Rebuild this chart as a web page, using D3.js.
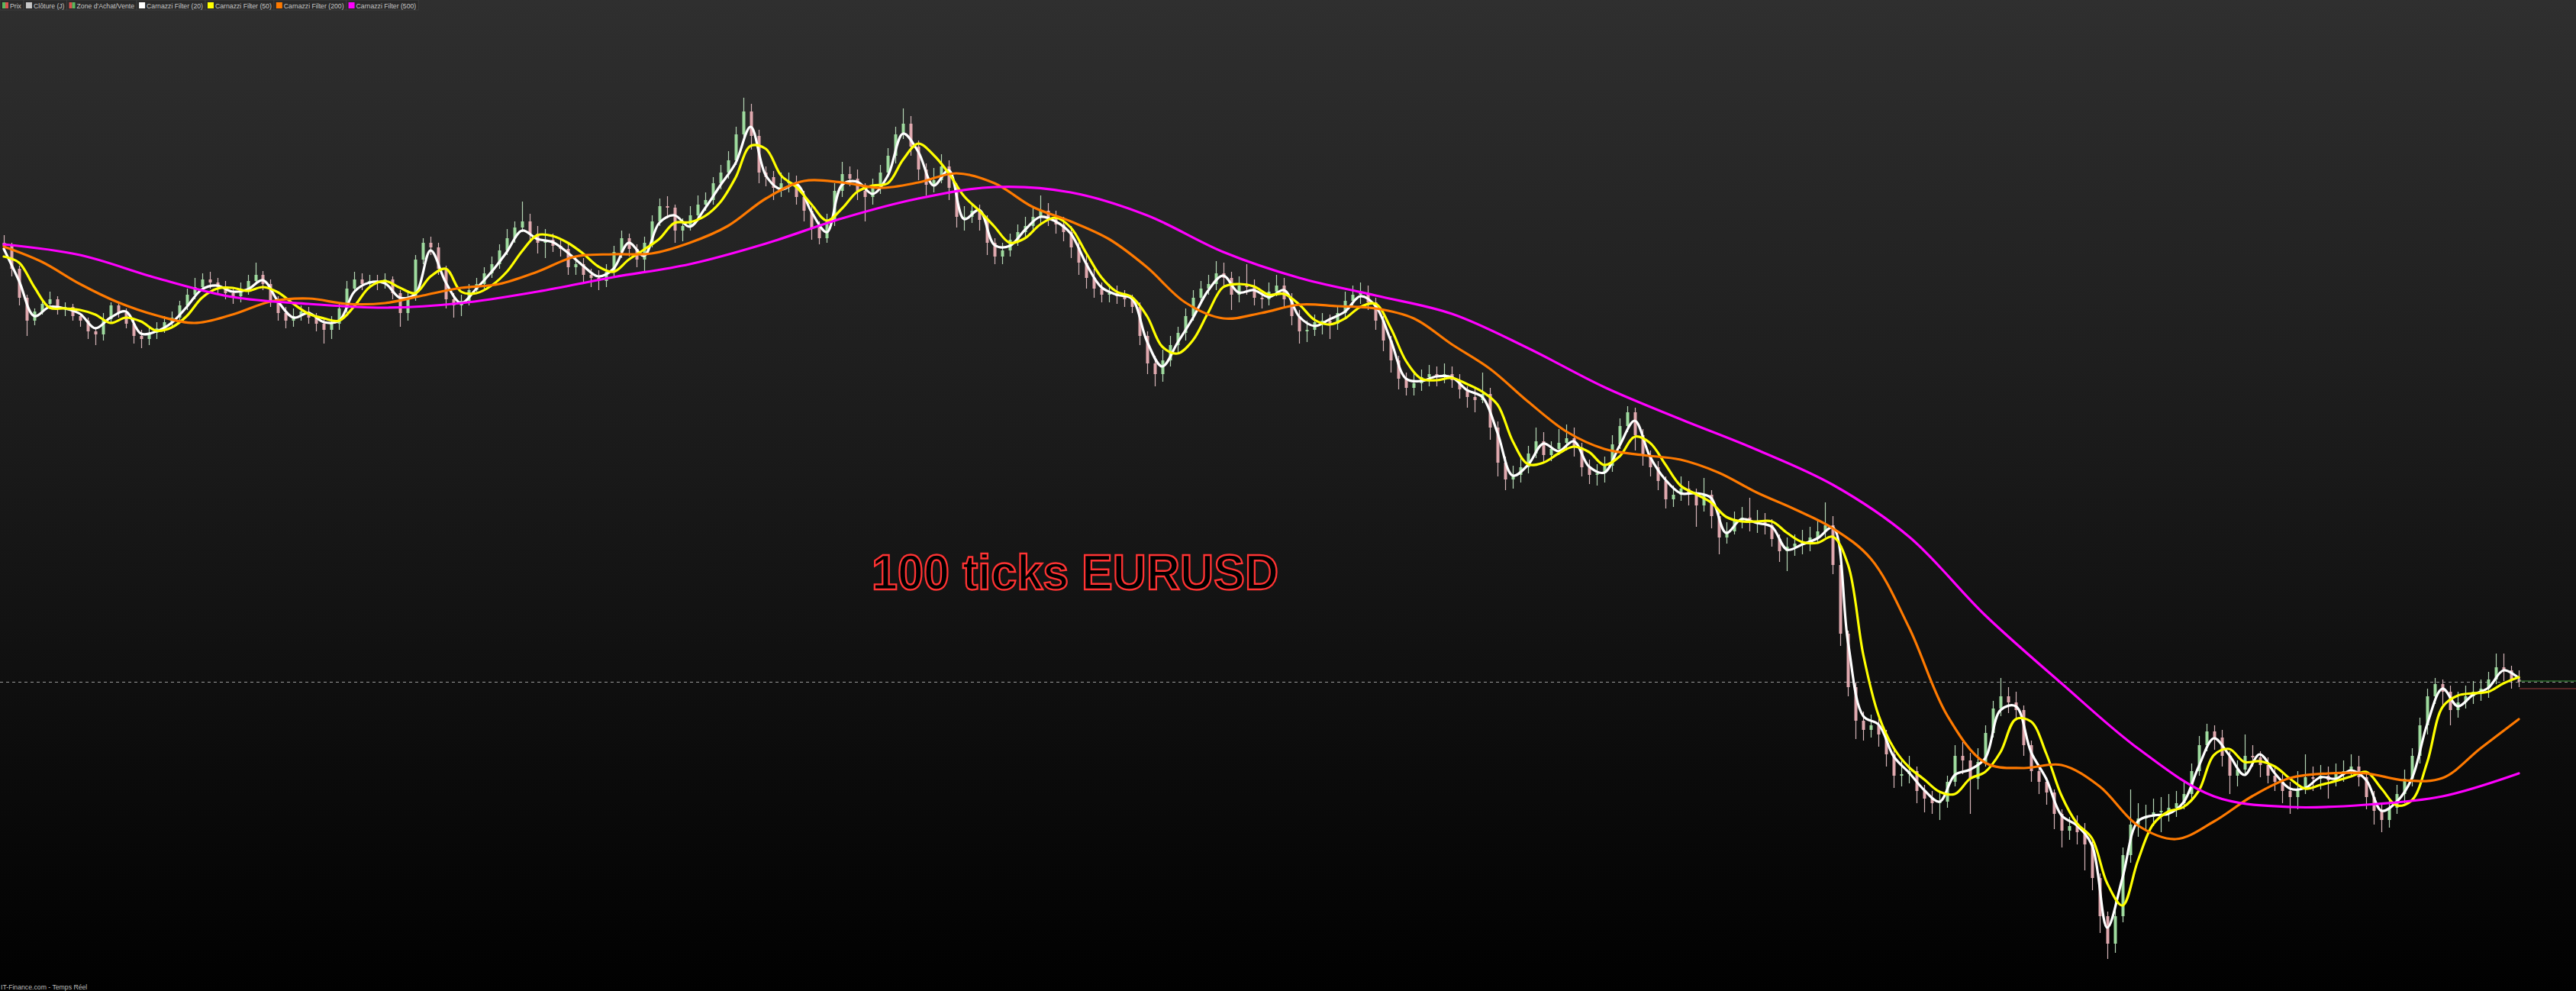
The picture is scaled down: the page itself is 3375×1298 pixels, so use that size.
<!DOCTYPE html>
<html><head><meta charset="utf-8">
<script src="https://cdn.jsdelivr.net/npm/d3@7"></script>
<style>html,body{margin:0;padding:0;background:#000;overflow:hidden}svg{display:block}</style>
</head><body><svg id="c" width="3375" height="1298"></svg>
<script>
// ---- DATA (EURUSD, 100-tick bars) ----
const chartTitle = "100 ticks EURUSD";
const footerText = "IT-Finance.com - Temps Réel";
const legendLabels = ["Prix","Clôture (J)","Zone d'Achat/Vente","Carnazzi Filter (20)","Carnazzi Filter (50)","Carnazzi Filter (200)","Carnazzi Filter (500)"];
const firstOpen = 1.09682;
const closes = [1.09678,1.09648,1.09610,1.09580,1.09592,1.09602,1.09608,1.09595,1.09598,1.09586,
1.09580,1.09566,1.09562,1.09582,1.09600,1.09590,1.09576,1.09560,1.09556,1.09564,
1.09570,1.09578,1.09584,1.09600,1.09614,1.09624,1.09634,1.09630,1.09624,1.09616,
1.09612,1.09620,1.09632,1.09640,1.09628,1.09606,1.09590,1.09580,1.09586,1.09592,
1.09584,1.09576,1.09568,1.09576,1.09596,1.09622,1.09634,1.09628,1.09632,1.09630,
1.09634,1.09616,1.09590,1.09610,1.09660,1.09682,1.09676,1.09648,1.09608,1.09600,
1.09606,1.09620,1.09628,1.09642,1.09654,1.09672,1.09688,1.09702,1.09710,1.09694,
1.09682,1.09686,1.09678,1.09674,1.09650,1.09654,1.09640,1.09636,1.09632,1.09644,
1.09670,1.09688,1.09674,1.09660,1.09682,1.09710,1.09730,1.09728,1.09698,1.09704,
1.09718,1.09732,1.09738,1.09760,1.09774,1.09790,1.09824,1.09854,1.09822,1.09774,
1.09768,1.09754,1.09760,1.09762,1.09742,1.09724,1.09702,1.09688,1.09712,1.09750,
1.09772,1.09766,1.09750,1.09742,1.09754,1.09774,1.09796,1.09824,1.09838,1.09808,
1.09778,1.09758,1.09764,1.09782,1.09754,1.09716,1.09716,1.09724,1.09712,1.09682,
1.09664,1.09672,1.09686,1.09696,1.09704,1.09716,1.09724,1.09714,1.09706,1.09696,
1.09676,1.09656,1.09636,1.09622,1.09614,1.09616,1.09612,1.09608,1.09598,1.09560,
1.09524,1.09510,1.09528,1.09548,1.09564,1.09586,1.09610,1.09622,1.09628,1.09642,
1.09636,1.09614,1.09626,1.09624,1.09610,1.09608,1.09618,1.09626,1.09608,1.09586,
1.09566,1.09568,1.09578,1.09580,1.09576,1.09590,1.09606,1.09614,1.09616,1.09604,
1.09580,1.09554,1.09528,1.09504,1.09492,1.09498,1.09506,1.09510,1.09508,1.09510,
1.09502,1.09490,1.09480,1.09476,1.09484,1.09440,1.09394,1.09372,1.09378,1.09388,
1.09406,1.09422,1.09404,1.09412,1.09420,1.09426,1.09414,1.09388,1.09378,1.09380,
1.09390,1.09418,1.09442,1.09460,1.09430,1.09404,1.09388,1.09370,1.09346,1.09352,
1.09360,1.09352,1.09338,1.09352,1.09324,1.09296,1.09304,1.09318,1.09322,1.09316,
1.09316,1.09312,1.09294,1.09278,1.09284,1.09288,1.09290,1.09296,1.09304,1.09312,
1.09260,1.09170,1.09100,1.09056,1.09044,1.09050,1.09038,1.09012,1.08984,1.08986,
1.08990,1.08964,1.08954,1.08948,1.08950,1.08976,1.09010,1.09004,1.08980,1.09002,
1.09040,1.09072,1.09088,1.09080,1.09070,1.09024,1.08990,1.08976,1.08962,1.08934,
1.08912,1.08918,1.08910,1.08894,1.08850,1.08800,1.08764,1.08800,1.08880,1.08920,
1.08928,1.08930,1.08936,1.08938,1.08942,1.08948,1.08960,1.08990,1.09024,1.09042,
1.09034,1.09010,1.08984,1.08992,1.09010,1.09008,1.08998,1.08984,1.08976,1.08964,
1.08956,1.08966,1.08982,1.08980,1.08984,1.08978,1.08986,1.08990,1.08996,1.08982,
1.08956,1.08938,1.08926,1.08942,1.08960,1.08980,1.09010,1.09050,1.09088,1.09104,
1.09094,1.09070,1.09080,1.09088,1.09094,1.09098,1.09110,1.09126,1.09122,1.09110,1.09107];
const highs = [1.09692,1.09682,1.09652,1.09614,1.09596,1.09608,1.09618,1.09612,1.09604,1.09602,
1.09590,1.09584,1.09572,1.09590,1.09604,1.09604,1.09596,1.09582,1.09568,1.09572,
1.09578,1.09586,1.09592,1.09606,1.09622,1.09636,1.09642,1.09644,1.09636,1.09632,
1.09624,1.09630,1.09640,1.09656,1.09645,1.09634,1.09612,1.09598,1.09596,1.09600,
1.09598,1.09590,1.09584,1.09586,1.09604,1.09632,1.09644,1.09642,1.09640,1.09640,
1.09642,1.09638,1.09620,1.09620,1.09666,1.09688,1.09690,1.09682,1.09652,1.09616,
1.09614,1.09628,1.09636,1.09650,1.09664,1.09680,1.09700,1.09710,1.09736,1.09720,
1.09704,1.09700,1.09694,1.09686,1.09680,1.09664,1.09662,1.09648,1.09646,1.09654,
1.09678,1.09698,1.09694,1.09680,1.09690,1.09718,1.09740,1.09743,1.09732,1.09714,
1.09730,1.09744,1.09748,1.09768,1.09784,1.09802,1.09834,1.09872,1.09864,1.09830,
1.09782,1.09776,1.09774,1.09774,1.09770,1.09750,1.09730,1.09710,1.09720,1.09760,
1.09788,1.09782,1.09778,1.09760,1.09766,1.09784,1.09806,1.09834,1.09858,1.09848,
1.09816,1.09786,1.09780,1.09798,1.09790,1.09760,1.09730,1.09734,1.09732,1.09718,
1.09688,1.09682,1.09694,1.09706,1.09716,1.09728,1.09744,1.09734,1.09724,1.09716,
1.09704,1.09684,1.09666,1.09648,1.09630,1.09628,1.09626,1.09620,1.09614,1.09604,
1.09566,1.09534,1.09542,1.09560,1.09572,1.09596,1.09620,1.09632,1.09640,1.09658,
1.09656,1.09644,1.09638,1.09654,1.09634,1.09620,1.09630,1.09640,1.09636,1.09616,
1.09594,1.09580,1.09588,1.09590,1.09588,1.09600,1.09618,1.09626,1.09630,1.09626,
1.09610,1.09586,1.09560,1.09534,1.09512,1.09512,1.09516,1.09522,1.09520,1.09524,
1.09520,1.09510,1.09494,1.09492,1.09512,1.09492,1.09448,1.09402,1.09390,1.09402,
1.09416,1.09440,1.09434,1.09422,1.09438,1.09444,1.09440,1.09420,1.09398,1.09392,
1.09402,1.09430,1.09452,1.09468,1.09466,1.09438,1.09410,1.09396,1.09376,1.09364,
1.09376,1.09370,1.09360,1.09374,1.09358,1.09330,1.09316,1.09330,1.09336,1.09348,
1.09332,1.09328,1.09320,1.09300,1.09296,1.09300,1.09306,1.09310,1.09320,1.09342,
1.09324,1.09264,1.09174,1.09106,1.09068,1.09064,1.09062,1.09044,1.09018,1.09004,
1.09010,1.08996,1.08972,1.08964,1.08962,1.08984,1.09024,1.09028,1.09014,1.09020,
1.09050,1.09082,1.09112,1.09100,1.09094,1.09076,1.09030,1.08996,1.08982,1.08966,
1.08940,1.08930,1.08932,1.08922,1.08900,1.08856,1.08806,1.08820,1.08890,1.08966,
1.08948,1.08946,1.08954,1.08956,1.08960,1.08964,1.08976,1.09000,1.09036,1.09052,
1.09050,1.09044,1.09016,1.09004,1.09038,1.09024,1.09016,1.09008,1.08994,1.08986,
1.08976,1.08990,1.09012,1.08996,1.08998,1.08996,1.09000,1.09004,1.09012,1.09010,
1.08990,1.08964,1.08946,1.08954,1.08972,1.08992,1.09020,1.09060,1.09098,1.09112,
1.09110,1.09102,1.09094,1.09102,1.09108,1.09110,1.09120,1.09144,1.09144,1.09128,1.09122];
const lows = [1.09670,1.09638,1.09600,1.09560,1.09574,1.09588,1.09598,1.09588,1.09586,1.09580,
1.09572,1.09556,1.09548,1.09554,1.09578,1.09584,1.09570,1.09550,1.09544,1.09548,
1.09556,1.09564,1.09572,1.09578,1.09594,1.09608,1.09620,1.09622,1.09614,1.09608,
1.09602,1.09604,1.09614,1.09628,1.09620,1.09598,1.09580,1.09570,1.09572,1.09580,
1.09576,1.09566,1.09550,1.09556,1.09568,1.09590,1.09616,1.09620,1.09622,1.09620,
1.09622,1.09608,1.09572,1.09580,1.09606,1.09654,1.09666,1.09640,1.09596,1.09584,
1.09586,1.09600,1.09618,1.09622,1.09636,1.09648,1.09666,1.09682,1.09696,1.09682,
1.09668,1.09662,1.09670,1.09664,1.09640,1.09640,1.09628,1.09624,1.09620,1.09624,
1.09638,1.09662,1.09664,1.09650,1.09642,1.09676,1.09704,1.09714,1.09682,1.09684,
1.09698,1.09710,1.09724,1.09732,1.09752,1.09766,1.09784,1.09820,1.09804,1.09760,
1.09756,1.09738,1.09742,1.09748,1.09732,1.09710,1.09686,1.09680,1.09682,1.09704,
1.09742,1.09756,1.09738,1.09710,1.09732,1.09746,1.09768,1.09786,1.09818,1.09796,
1.09764,1.09744,1.09748,1.09760,1.09738,1.09702,1.09698,1.09708,1.09698,1.09666,
1.09654,1.09654,1.09664,1.09678,1.09688,1.09698,1.09708,1.09704,1.09694,1.09684,
1.09662,1.09640,1.09622,1.09610,1.09604,1.09604,1.09602,1.09598,1.09590,1.09548,
1.09510,1.09494,1.09500,1.09520,1.09538,1.09554,1.09580,1.09604,1.09614,1.09620,
1.09624,1.09594,1.09604,1.09614,1.09600,1.09596,1.09600,1.09612,1.09598,1.09574,
1.09550,1.09552,1.09560,1.09562,1.09556,1.09568,1.09584,1.09600,1.09602,1.09594,
1.09568,1.09540,1.09512,1.09490,1.09482,1.09482,1.09488,1.09494,1.09494,1.09498,
1.09492,1.09478,1.09466,1.09460,1.09472,1.09424,1.09376,1.09358,1.09360,1.09368,
1.09380,1.09400,1.09394,1.09396,1.09404,1.09410,1.09402,1.09376,1.09366,1.09364,
1.09368,1.09382,1.09412,1.09434,1.09410,1.09390,1.09376,1.09358,1.09334,1.09336,
1.09344,1.09338,1.09310,1.09330,1.09308,1.09274,1.09288,1.09300,1.09308,1.09304,
1.09302,1.09300,1.09284,1.09264,1.09252,1.09272,1.09274,1.09278,1.09288,1.09296,
1.09248,1.09154,1.09088,1.09032,1.09030,1.09034,1.09022,1.08996,1.08968,1.08970,
1.08974,1.08948,1.08936,1.08934,1.08926,1.08942,1.08970,1.08986,1.08934,1.08966,
1.08996,1.09034,1.09062,1.09066,1.09056,1.09010,1.08976,1.08960,1.08946,1.08914,
1.08890,1.08900,1.08894,1.08860,1.08834,1.08778,1.08744,1.08752,1.08792,1.08870,
1.08904,1.08912,1.08918,1.08910,1.08924,1.08930,1.08940,1.08950,1.08984,1.09016,
1.09018,1.08996,1.08960,1.08970,1.08986,1.08996,1.08982,1.08974,1.08964,1.08948,
1.08934,1.08940,1.08960,1.08964,1.08966,1.08954,1.08970,1.08976,1.08982,1.08970,
1.08940,1.08920,1.08910,1.08916,1.08934,1.08948,1.08970,1.09000,1.09038,1.09078,
1.09076,1.09050,1.09060,1.09072,1.09078,1.09082,1.09086,1.09104,1.09108,1.09098,1.09100];
// Carnazzi filters, one value every 2 bars (20, 50), 5 bars (200), 10 bars (500)
const filter20 = [1.09674,1.09632,1.09586,1.09598,1.09596,1.09589,1.09570,1.09584,1.09592,1.09563,
1.09566,1.09577,1.09598,1.09621,1.09626,1.09618,1.09621,1.09633,1.09605,1.09584,
1.09590,1.09578,1.09580,1.09618,1.09630,1.09629,1.09610,1.09615,1.09672,1.09630,
1.09603,1.09622,1.09644,1.09670,1.09698,1.09687,1.09683,1.09669,1.09652,1.09638,
1.09648,1.09682,1.09665,1.09708,1.09718,1.09703,1.09727,1.09757,1.09786,1.09834,
1.09770,1.09752,1.09759,1.09722,1.09696,1.09758,1.09762,1.09746,1.09770,1.09825,
1.09801,1.09757,1.09777,1.09713,1.09725,1.09679,1.09678,1.09699,1.09716,1.09710,
1.09694,1.09655,1.09624,1.09614,1.09609,1.09553,1.09520,1.09551,1.09583,1.09619,
1.09639,1.09617,1.09620,1.09611,1.09620,1.09585,1.09573,1.09582,1.09592,1.09612,
1.09599,1.09554,1.09504,1.09501,1.09507,1.09506,1.09489,1.09480,1.09433,1.09377,
1.09391,1.09419,1.09409,1.09422,1.09389,1.09381,1.09416,1.09449,1.09402,1.09372,
1.09354,1.09354,1.09348,1.09302,1.09320,1.09315,1.09310,1.09280,1.09287,1.09295,
1.09309,1.09158,1.09062,1.09051,1.09009,1.08988,1.08965,1.08950,1.08985,1.08992,
1.09007,1.09070,1.09075,1.09015,1.08980,1.08932,1.08919,1.08893,1.08785,1.08850,
1.08924,1.08932,1.08934,1.08949,1.08996,1.09033,1.09011,1.08985,1.09012,1.08987,
1.08967,1.08968,1.08982,1.08980,1.08991,1.08978,1.08938,1.08950,1.08981,1.09052,
1.09098,1.09075,1.09090,1.09099,1.09122,1.09112];
const filter50 = [1.09664,1.09656,1.09624,1.09597,1.09596,1.09594,1.09588,1.09577,1.09584,1.09579,
1.09567,1.09571,1.09586,1.09610,1.09622,1.09623,1.09619,1.09624,1.09617,1.09602,
1.09589,1.09583,1.09580,1.09599,1.09624,1.09632,1.09623,1.09616,1.09638,1.09648,
1.09618,1.09616,1.09626,1.09644,1.09671,1.09692,1.09691,1.09682,1.09668,1.09651,
1.09644,1.09660,1.09673,1.09687,1.09708,1.09709,1.09717,1.09735,1.09767,1.09809,
1.09805,1.09770,1.09755,1.09732,1.09711,1.09727,1.09749,1.09757,1.09760,1.09791,
1.09812,1.09797,1.09773,1.09743,1.09724,1.09703,1.09682,1.09688,1.09706,1.09715,
1.09702,1.09669,1.09637,1.09618,1.09611,1.09586,1.09546,1.09537,1.09554,1.09590,
1.09624,1.09628,1.09625,1.09614,1.09615,1.09601,1.09581,1.09575,1.09583,1.09598,
1.09602,1.09570,1.09527,1.09504,1.09502,1.09505,1.09497,1.09487,1.09470,1.09422,
1.09392,1.09394,1.09406,1.09415,1.09408,1.09391,1.09402,1.09428,1.09420,1.09392,
1.09364,1.09353,1.09342,1.09323,1.09317,1.09317,1.09317,1.09302,1.09290,1.09289,
1.09297,1.09260,1.09142,1.09063,1.09020,1.08995,1.08979,1.08963,1.08960,1.08980,
1.08989,1.09015,1.09058,1.09055,1.09013,1.08958,1.08922,1.08902,1.08843,1.08814,
1.08872,1.08920,1.08937,1.08943,1.08964,1.09011,1.09019,1.09002,1.09003,1.08996,
1.08980,1.08967,1.08972,1.08977,1.08983,1.08989,1.08967,1.08945,1.08952,1.09002,
1.09074,1.09089,1.09092,1.09094,1.09105,1.09113];
const filter200 = [1.09677,1.09657,1.09628,1.09604,1.09587,1.09577,1.09588,1.09605,1.09609,1.09602,
1.09603,1.09613,1.09623,1.09628,1.09644,1.09664,1.09667,1.09668,1.09682,1.09704,
1.09740,1.09763,1.09761,1.09754,1.09761,1.09773,1.09760,1.09729,1.09710,1.09687,
1.09650,1.09604,1.09583,1.09590,1.09601,1.09599,1.09596,1.09583,1.09549,1.09517,
1.09474,1.09435,1.09412,1.09404,1.09398,1.09381,1.09355,1.09333,1.09308,1.09268,
1.09178,1.09063,1.09001,1.08994,1.08998,1.08970,1.08919,1.08901,1.08924,1.08957,
1.08981,1.08987,1.08987,1.08978,1.08981,1.09020,1.09058];
const filter500 = [1.09680,1.09666,1.09636,1.09611,1.09602,1.09597,1.09603,1.09618,1.09637,1.09654,
1.09681,1.09714,1.09740,1.09755,1.09748,1.09718,1.09670,1.09636,1.09613,1.09589,
1.09544,1.09493,1.09451,1.09411,1.09365,1.09297,1.09194,1.09105,1.09020,1.08957,
1.08943,1.08946,1.08957,1.08987];
const zoneBuy = 1.09108, zoneSell = 1.09102;

// ---- DRAWING ----
const W = 3375, H = 1298;
const svg = d3.select('#c');
const defs = svg.append('defs');
const grad = defs.append('linearGradient').attr('id','bg').attr('x1',0).attr('y1',0).attr('x2',0).attr('y2',1);
grad.append('stop').attr('offset','0%').attr('stop-color','#2f2f2f');
grad.append('stop').attr('offset','100%').attr('stop-color','#010101');
svg.append('rect').attr('width',W).attr('height',H).attr('fill','url(#bg)');

const n = closes.length;
const x = d3.scaleLinear().domain([0, n-1]).range([5, 3300]);
const y = d3.scaleLinear().domain([1.1, 1.087]).range([0, 1300]);

const opens = [firstOpen].concat(closes.slice(0, -1));
const bars = closes.map((c,i)=>({i, o:opens[i], c, h:highs[i], l:lows[i]}));

// last price dashed line
const last = closes[n-1];
svg.append('line').attr('x1',0).attr('x2',W).attr('y1',y(last)+0.5).attr('y2',y(last)+0.5)
  .attr('stroke','#9a9a9a').attr('stroke-width',1).attr('stroke-dasharray','4,4');

const cg = svg.append('g');
cg.selectAll('line.w').data(bars).join('line').attr('class','w')
  .attr('x1',d=>Math.round(x(d.i))+0.5).attr('x2',d=>Math.round(x(d.i))+0.5)
  .attr('y1',d=>y(d.h)).attr('y2',d=>y(d.l))
  .attr('stroke',d=>d.c>=d.o?'#b4d6b4':'#d6b4b8').attr('stroke-width',1.2);
cg.selectAll('rect.b').data(bars).join('rect').attr('class','b')
  .attr('x',d=>Math.round(x(d.i))-1.5).attr('width',4)
  .attr('y',d=>y(Math.max(d.o,d.c)))
  .attr('height',d=>Math.max(1, Math.abs(y(d.o)-y(d.c))))
  .attr('fill',d=>d.c>=d.o?'#9edb9e':'#e0a8ae');

function drawFilter(vals, step, color){
  const line = d3.line().x((d,i)=>x(Math.min(i*step, n-1))).y(d=>y(d)).curve(d3.curveCatmullRom.alpha(0.5));
  svg.append('path').datum(vals).attr('d',line).attr('fill','none')
    .attr('stroke',color).attr('stroke-width',3.2).attr('stroke-linejoin','round').attr('stroke-linecap','round');
}
drawFilter(filter20, 2, '#ffffff');
drawFilter(filter50, 2, '#ffff00');
drawFilter(filter200, 5, '#ff7a00');
drawFilter(filter500, 10, '#ff00ff');

// buy / sell zone marks at right edge
svg.append('line').attr('x1',x(n-1)+1).attr('x2',W).attr('y1',y(zoneBuy)).attr('y2',y(zoneBuy)).attr('stroke','#3c9a3c').attr('stroke-width',1.2);
svg.append('line').attr('x1',x(n-1)+1).attr('x2',W).attr('y1',y(zoneSell)+4).attr('y2',y(zoneSell)+4).attr('stroke','#9a3c3c').attr('stroke-width',1.2);

// title
svg.append('text').attr('x',1142).attr('y',772).text(chartTitle)
  .attr('font-family','"Liberation Sans", Arial, sans-serif').attr('font-weight','bold').attr('font-size',64)
  .attr('textLength',533).attr('lengthAdjust','spacingAndGlyphs')
  .attr('fill','#000').attr('stroke','#ff3333').attr('stroke-width',2.4);

// legend
const legendColors = [['#5cb85c','#d9534f'],['#c8c8c8'],['#d9534f','#5cb85c'],['#ffffff'],['#ffff00'],['#ff7a00'],['#ff00ff']];
const lg = svg.append('g');
let lx = 0;
legendLabels.forEach((lab,k)=>{
  const item = lg.append('g');
  const bg = item.append('rect').attr('x',lx).attr('y',0).attr('height',13).attr('fill','#2a2a2a').attr('stroke','#3e3e3e').attr('stroke-width',1);
  const cols = legendColors[k];
  if(cols.length===2){
    item.append('rect').attr('x',lx+3).attr('y',3).attr('width',4).attr('height',8).attr('fill',cols[0]);
    item.append('rect').attr('x',lx+7).attr('y',3).attr('width',4).attr('height',8).attr('fill',cols[1]);
  } else {
    item.append('rect').attr('x',lx+3).attr('y',3).attr('width',8).attr('height',8).attr('fill',cols[0]);
  }
  const t = item.append('text').attr('x',lx+13).attr('y',10.5).text(lab)
    .attr('font-family','"Liberation Sans", Arial, sans-serif').attr('font-size',8.7).attr('fill','#c8c8c8');
  const tw = t.node().getComputedTextLength();
  const w = 13 + tw + 3;
  bg.attr('width', w);
  lx += w;
});

// footer
svg.append('text').attr('x',1).attr('y',1296).text(footerText)
  .attr('font-family','"Liberation Sans", Arial, sans-serif').attr('font-size',8.7).attr('fill','#bdbdbd');
</script>
</body></html>
